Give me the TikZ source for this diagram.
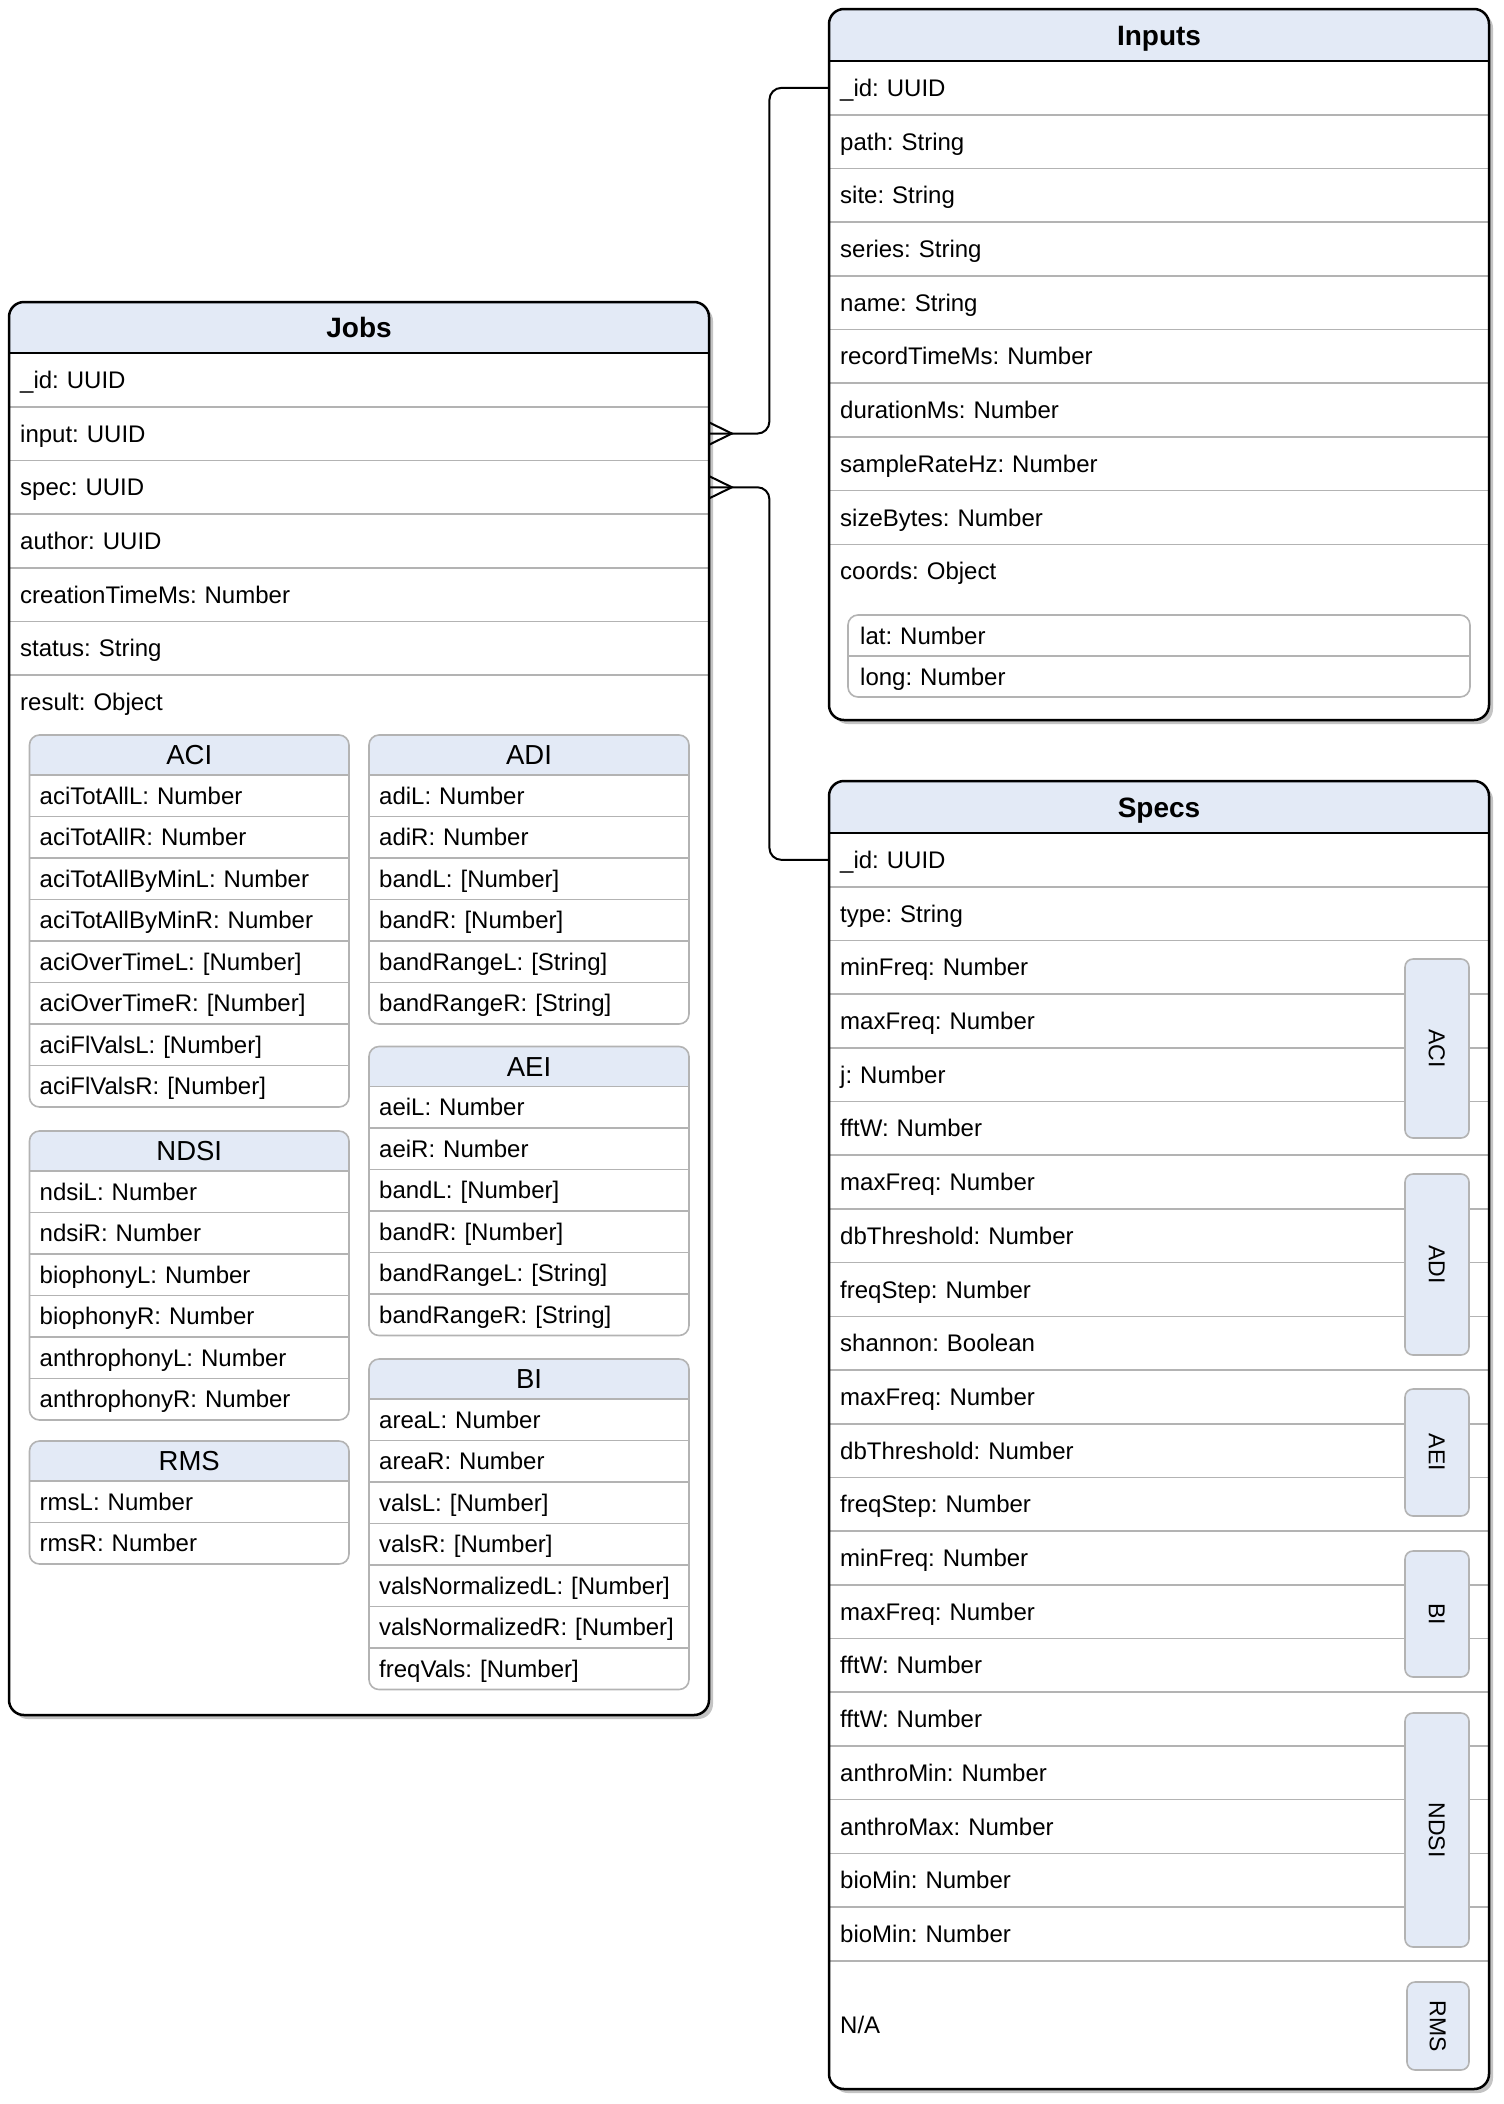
\documentclass[tikz,border=0pt]{standalone}
\usepackage{fontspec}
\setmainfont{Liberation Sans}
\frenchspacing
\definecolor{hdrblue}{HTML}{E3EAF6}
\definecolor{sepgray}{HTML}{B3B3B3}
\definecolor{shadowgray}{HTML}{C4C4C4}
\newcommand\fRow{\fontsize{24}{28}\selectfont\frenchspacing}
\newcommand\fTitle{\fontsize{28}{32}\selectfont\bfseries}
\newcommand\fSub{\fontsize{27.5}{32}\selectfont}
\newcommand\fSide{\fontsize{23}{27}\selectfont}
\tikzset{
  rowbox/.style 2 args={anchor=west, inner ysep=0pt, inner xsep=11pt, text width=#1, minimum height=#2, align=left, text height=17.2pt, text depth=0pt, font=\fRow},
  titletxt/.style={font=\fTitle, inner sep=0pt, text height=20pt, text depth=0pt},
  subhead/.style={font=\fSub, inner sep=0pt, text height=19.7pt, text depth=0pt},
  sidebox/.style={draw=sepgray, line width=1.6pt, fill=hdrblue, rounded corners=8pt, rotate=-90, inner sep=0pt, font=\fSide, text height=16.5pt, text depth=0pt},
  sepline/.style={draw=sepgray, line width=1.6pt},
  frameline/.style={draw=black, line width=2.5pt},
  conn/.style={draw=black, line width=2pt},
}
% back part of an entity table: x1 y1 x2 y2 yheader
\newcommand\ertableback[5]{%
  \fill[shadowgray, rounded corners=15pt] (#1+4,#2+4) rectangle (#3+4,#4+4);
  \fill[white, rounded corners=15pt] (#1,#2) rectangle (#3,#4);
  \begin{scope}
    \clip[rounded corners=15pt] (#1,#2) rectangle (#3,#4);
    \fill[hdrblue] (#1,#2) rectangle (#3,#5);
  \end{scope}
}
\newcommand\ertablefront[5]{%
  \draw[frameline] (#1,#5) -- (#3,#5);
  \draw[frameline, rounded corners=15pt] (#1,#2) rectangle (#3,#4);
}
% nested table: name x1 y1 x2 nrows title rows
\newcommand\subtab[7]{%
  \pgfmathsetmacro\stbot{#3+40+41.5*#5}%
  \pgfmathsetmacro\stwid{#4-#2-20}%
  \fill[white, rounded corners=10pt] (#2,#3) rectangle (#4,\stbot);
  \begin{scope}
    \clip[rounded corners=10pt] (#2,#3) rectangle (#4,\stbot);
    \fill[hdrblue] (#2,#3) rectangle (#4,#3+40);
  \end{scope}
  \foreach \k in {1,...,#5} \draw[sepline] (#2,{#3+40+41.5*(\k-1)}) -- (#4,{#3+40+41.5*(\k-1)});
  \node[subhead] (#1-h) at ({(#2+#4)/2},#3+20) {#6};
  \foreach \t [count=\i] in {#7} \node[rowbox={\stwid pt}{41.5pt}, inner xsep=10pt] (#1-\i) at (#2,{#3+40+41.5*(\i-0.5)}) {\t};
  \draw[sepline, rounded corners=10pt] (#2,#3) rectangle (#4,\stbot);
}
\begin{document}
\begin{tikzpicture}[x=1pt,y=-1pt]
\useasboundingbox (0,0) rectangle (1504,2104);
\fill[white] (0,0) rectangle (1504,2104);

% ---------------- Jobs ----------------
\ertableback{9}{302}{709}{1715}{353}
\node[titletxt] (jobs-title) at (359,327.5) {Jobs};
\foreach \i in {1,...,6} \draw[sepline] (9,{353+53.7*\i}) -- (709,{353+53.7*\i});
\foreach \t [count=\i] in {\_id: UUID, input: UUID, spec: UUID, author: UUID, creationTimeMs: Number, status: String, result: Object}
  \node[rowbox={678pt}{53.7pt}] (jobs-\i) at (9,{353+53.7*(\i-0.5)}) {\t};

\subtab{aci}{29.5}{735}{349}{8}{ACI}{aciTotAllL: Number, aciTotAllR: Number, aciTotAllByMinL: Number, aciTotAllByMinR: Number, aciOverTimeL: [Number], aciOverTimeR: [Number], aciFlValsL: [Number], aciFlValsR: [Number]}
\subtab{ndsi}{29.5}{1131}{349}{6}{NDSI}{ndsiL: Number, ndsiR: Number, biophonyL: Number, biophonyR: Number, anthrophonyL: Number, anthrophonyR: Number}
\subtab{rms}{29.5}{1441}{349}{2}{RMS}{rmsL: Number, rmsR: Number}
\subtab{adi}{369}{735}{689}{6}{ADI}{adiL: Number, adiR: Number, bandL: [Number], bandR: [Number], bandRangeL: [String], bandRangeR: [String]}
\subtab{aei}{369}{1046.5}{689}{6}{AEI}{aeiL: Number, aeiR: Number, bandL: [Number], bandR: [Number], bandRangeL: [String], bandRangeR: [String]}
\subtab{bi}{369}{1359}{689}{7}{BI}{areaL: Number, areaR: Number, valsL: [Number], valsR: [Number], valsNormalizedL: [Number], valsNormalizedR: [Number], freqVals: [Number]}
\ertablefront{9}{302}{709}{1715}{353}

% ---------------- Inputs ----------------
\ertableback{829}{9}{1489}{720}{61}
\node[titletxt] (inputs-title) at (1159,35) {Inputs};
\foreach \i in {1,...,9} \draw[sepline] (829,{61+53.7*\i}) -- (1489,{61+53.7*\i});
\foreach \t [count=\i] in {\_id: UUID, path: String, site: String, series: String, name: String, recordTimeMs: Number, durationMs: Number, sampleRateHz: Number, sizeBytes: Number, coords: Object}
  \node[rowbox={638pt}{53.7pt}] (inputs-\i) at (829,{61+53.7*(\i-0.5)}) {\t};
\fill[white, rounded corners=10pt] (848,615) rectangle (1470,697);
\draw[sepline] (848,656) -- (1470,656);
\node[rowbox={598pt}{41pt}, inner xsep=12pt] (coords-1) at (848,635.5) {lat: Number};
\node[rowbox={598pt}{41pt}, inner xsep=12pt] (coords-2) at (848,676.5) {long: Number};
\draw[sepline, rounded corners=10pt] (848,615) rectangle (1470,697);
\ertablefront{829}{9}{1489}{720}{61}

% ---------------- Specs ----------------
\ertableback{829}{781}{1489}{2089}{833}
\node[titletxt] (specs-title) at (1159,807) {Specs};
\foreach \i in {1,...,21} \draw[sepline] (829,{833+53.7*\i}) -- (1489,{833+53.7*\i});
\foreach \t [count=\i] in {\_id: UUID, type: String, minFreq: Number, maxFreq: Number, j: Number, fftW: Number, maxFreq: Number, dbThreshold: Number, freqStep: Number, shannon: Boolean, maxFreq: Number, dbThreshold: Number, freqStep: Number, minFreq: Number, maxFreq: Number, fftW: Number, fftW: Number, anthroMin: Number, anthroMax: Number, bioMin: Number, bioMin: Number}
  \node[rowbox={554pt}{53.7pt}] (specs-\i) at (829,{833+53.7*(\i-0.5)}) {\t};
\node[rowbox={554pt}{128pt}] (specs-22) at (829,2024.85) {N/A};
\node[sidebox, minimum width=179pt, minimum height=64pt] (sb-aci) at (1437,1048.5) {ACI};
\node[sidebox, minimum width=181pt, minimum height=64pt] (sb-adi) at (1437,1264.5) {ADI};
\node[sidebox, minimum width=127pt, minimum height=64pt] (sb-aei) at (1437,1452.5) {AEI};
\node[sidebox, minimum width=126pt, minimum height=64pt] (sb-bi) at (1437,1614) {BI};
\node[sidebox, minimum width=234pt, minimum height=64pt] (sb-ndsi) at (1437,1830) {NDSI};
\node[sidebox, minimum width=88pt, minimum height=62pt] (sb-rms) at (1438,2026) {RMS};
\ertablefront{829}{781}{1489}{2089}{833}

% ---------------- Connectors ----------------
\draw[conn, rounded corners=12pt] (jobs-2.east) -- ++(60,0) |- (inputs-1.west);
\draw[conn] (jobs-2.east) ++(0,-11) -- ++(22.5,11) -- ++(-22.5,11);
\draw[conn, rounded corners=12pt] (jobs-3.east) -- ++(60,0) |- (specs-1.west);
\draw[conn] (jobs-3.east) ++(0,-11) -- ++(22.5,11) -- ++(-22.5,11);
\end{tikzpicture}
\end{document}
